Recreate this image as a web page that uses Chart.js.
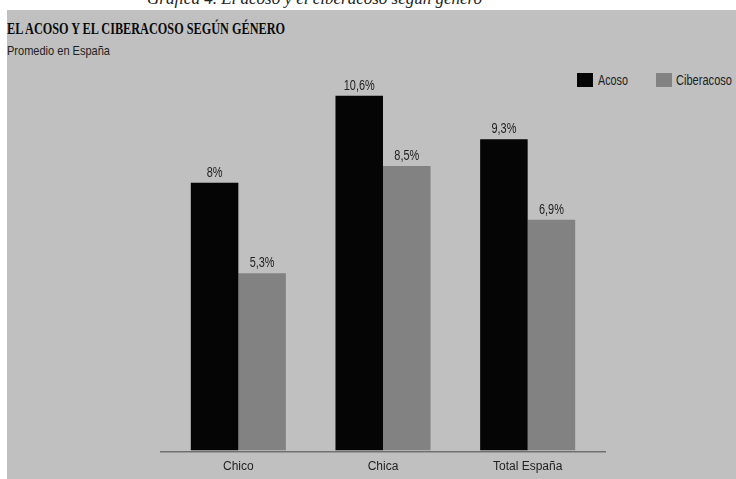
<!DOCTYPE html>
<html>
<head>
<meta charset="utf-8">
<script src="https://cdn.jsdelivr.net/npm/chart.js@4.4.0/dist/chart.umd.min.js"></script>
<style>
  html, body { margin: 0; padding: 0; background: #fff; }
  body { width: 736px; height: 479px; position: relative; overflow: hidden; }
  #caption {
    position: absolute; left: 147px; top: -10px; white-space: nowrap;
    font: italic 17px/1 'Liberation Serif', serif; color: #222;
  }
  #panel { position: absolute; left: 7px; top: 10px; right: 0; bottom: 0; background: #c0c0c0; }
  .fit { position: absolute; white-space: nowrap; transform-origin: 0 0; }
  #title { left: 7px; top: 20px; font: bold 17px/1 'Liberation Serif', serif; color: #0a0a0a; }
  #subtitle { left: 7px; top: 44px; font: 13px/1 'Liberation Sans', sans-serif; color: #222; }
  .lg-box { position: absolute; top: 73px; width: 16px; height: 14px; }
  .lg-txt { top: 72px; font: 14px/16px 'Liberation Sans', sans-serif; color: #222; }
  #wrap { position: absolute; left: 0; top: 0; width: 736px; height: 489px; }
</style>
</head>
<body>
<div id="caption">Gráfica 4. El acoso y el ciberacoso según género</div>
<div id="panel"></div>
<div id="title" class="fit" data-w="278">EL ACOSO Y EL CIBERACOSO SEGÚN GÉNERO</div>
<div id="subtitle" class="fit" data-w="103">Promedio en España</div>
<div class="lg-box" style="left:577px;background:#050505"></div>
<div class="lg-txt fit" style="left:598px" data-w="30">Acoso</div>
<div class="lg-box" style="left:656px;background:#828282"></div>
<div class="lg-txt fit" style="left:676px" data-w="56">Ciberacoso</div>
<div id="wrap"><canvas id="c"></canvas></div>
<script>
// ── Data ───────────────────────────────────────────────
const CATEGORIES   = ['Chico', 'Chica', 'Total España'];
const ACOSO        = [8, 10.6, 9.3];
const CIBERACOSO   = [5.3, 8.5, 6.9];
const SERIES_NAMES = ['Acoso', 'Ciberacoso'];

// the original uses a condensed face — squeeze each text to its width
document.querySelectorAll('.fit').forEach(el => {
  el.style.transform = `scaleX(${+el.dataset.w / el.getBoundingClientRect().width})`;
});

const _fmt = v => String(v).replace('.', ',') + '%';

// value labels above each bar (condensed by 0.78)
const _valueLabels = {
  id: 'valueLabels',
  afterDatasetsDraw(chart) {
    const { ctx } = chart;
    ctx.save();
    ctx.font = "14px 'Liberation Sans', sans-serif";
    ctx.fillStyle = '#222';
    ctx.textAlign = 'center';
    ctx.textBaseline = 'alphabetic';
    chart.data.datasets.forEach((ds, i) => {
      chart.getDatasetMeta(i).data.forEach((bar, j) => {
        ctx.save();
        ctx.translate(bar.x, bar.y - 6);
        ctx.scale(0.78, 1);
        ctx.fillText(_fmt(ds.data[j]), 0, 0);
        ctx.restore();
      });
    });
    ctx.restore();
  },
};

// baseline runs a little past the plot area on both sides
const _baseLine = {
  id: 'baseLine',
  afterDatasetsDraw(chart) {
    const { ctx, chartArea, scales: { y } } = chart;
    const y0 = Math.round(y.getPixelForValue(0)) + 0.75;
    ctx.save();
    ctx.strokeStyle = '#707070';
    ctx.lineWidth = 1.5;
    ctx.beginPath();
    ctx.moveTo(chartArea.left - 6, y0);
    ctx.lineTo(chartArea.right + 6, y0);
    ctx.stroke();
    ctx.restore();
  },
};

new Chart(document.getElementById('c'), {
  type: 'bar',
  data: {
    labels: CATEGORIES,
    datasets: [
      { label: SERIES_NAMES[0], data: ACOSO,      backgroundColor: '#050505' },
      { label: SERIES_NAMES[1], data: CIBERACOSO, backgroundColor: '#828282' },
    ],
  },
  options: {
    animation: false,
    responsive: true,
    maintainAspectRatio: false,
    categoryPercentage: 0.657,
    barPercentage: 1,
    layout: { padding: { left: 166, right: 136, top: 69, bottom: 6 } },
    scales: {
      x: {
        grid: { display: false, drawTicks: false },
        border: { display: false },
        ticks: { color: '#222', padding: 9, font: { family: 'Liberation Sans', size: 12 } },
      },
      y: { display: false, min: 0, max: 11.4 },
    },
    plugins: { legend: { display: false }, tooltip: { enabled: false } },
  },
  plugins: [_valueLabels, _baseLine],
});
</script>
</body>
</html>
